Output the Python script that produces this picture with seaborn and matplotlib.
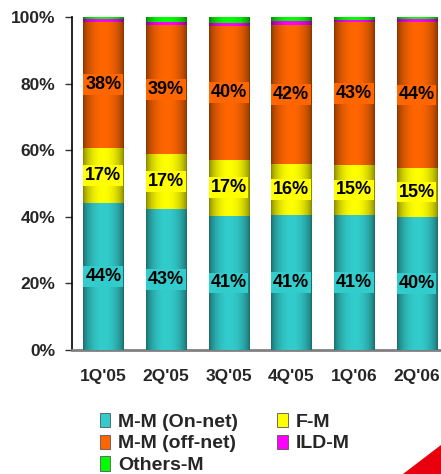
import numpy as np
import pandas as pd
import matplotlib
matplotlib.use("Agg")
import matplotlib.pyplot as plt
import seaborn as sns
from matplotlib.colors import to_rgb
from matplotlib.patches import Patch, Polygon

quarters = ["1Q'05", "2Q'05", "3Q'05", "4Q'05", "1Q'06", "2Q'06"]

# shares in % (bottom to top)
onnet = [44.1, 42.3, 40.3, 40.4, 40.6, 40.0]
fm = [16.6, 16.7, 16.9, 15.6, 15.0, 14.8]
offnet = [37.9, 38.6, 40.2, 41.6, 43.0, 43.6]
ild = [0.7, 0.9, 0.8, 1.2, 0.6, 0.9]
others = [0.7, 1.5, 1.8, 1.2, 0.8, 0.7]

onnet_labels = ["44%", "43%", "41%", "41%", "41%", "40%"]
fm_labels = ["17%", "17%", "17%", "16%", "15%", "15%"]
offnet_labels = ["38%", "39%", "40%", "42%", "43%", "44%"]

series_names = ["M-M (On-net)", "F-M", "M-M (off-net)", "ILD-M", "Others-M"]
series_vals = [onnet, fm, offnet, ild, others]
series_cols = ["#33cccc", "#ffff00", "#ff6600", "#ff00ff", "#00ff00"]
series_labels = [onnet_labels, fm_labels, offnet_labels, None, None]

sns.set_theme(style="white")
plt.rcParams["font.family"] = ["Liberation Sans", "DejaVu Sans"]

fig = plt.figure(figsize=(4.41, 4.74), dpi=100)
ax = fig.add_axes([72 / 441, 124 / 474, 369 / 441, 333 / 474])

df = pd.DataFrame({"quarter": quarters})
cum = np.zeros(len(quarters))
segs = []
for vals in series_vals:
    lo = cum.copy()
    cum = cum + np.array(vals)
    segs.append((lo, cum.copy()))

# cumulative bars, tallest first
for i in range(len(series_vals) - 1, -1, -1):
    df["top"] = segs[i][1]
    sns.barplot(data=df, x="quarter", y="top", color=series_cols[i],
                width=0.64, saturation=1, ax=ax, zorder=2)

# cylinder-like shading over every segment
t = np.linspace(0, 1, 128)
shade = 0.5 + 0.5 * np.sin(np.pi * t) ** 0.6
bar_patches = list(ax.patches[-len(quarters):])
for i, col in enumerate(series_cols):
    rgb = np.array(to_rgb(col))
    row = shade[:, None] * rgb[None, :]
    img = np.stack([row, row])
    lo, hi = segs[i]
    for j, p in enumerate(bar_patches):
        x0 = p.get_x()
        w = p.get_width()
        ax.imshow(img, extent=[x0, x0 + w, lo[j], hi[j]], aspect="auto", zorder=4)
        labs = series_labels[i]
        if labs is not None:
            ax.text(x0 + w / 2, (lo[j] + hi[j]) / 2, labs[j], ha="center", va="center",
                    fontsize=13, fontweight="bold", color="black", zorder=6,
                    bbox=dict(boxstyle="square,pad=0.1", fc=col, ec="none"))

ax.set_xlim(-0.5, 5.39)
ax.set_ylim(0, 100)
ax.set_yticks([0, 20, 40, 60, 80, 100])
ax.set_yticklabels([f"{v}%" for v in [0, 20, 40, 60, 80, 100]], fontsize=12.5, fontweight="bold")
ax.set_xticks(range(len(quarters)))
ax.set_xticklabels(quarters, fontsize=12.5, fontweight="bold")
ax.set_xticks([k + 0.5 for k in range(len(quarters) - 1)], minor=True)
ax.tick_params(axis="x", which="major", length=0, pad=14)
ax.tick_params(axis="x", which="minor", direction="in", length=5, width=1, color="#333333")
ax.tick_params(axis="y", direction="out", length=5, width=1, color="#333333", pad=7, left=True)
ax.set_xlabel("")
ax.set_ylabel("")
ax.spines["top"].set_visible(False)
ax.spines["right"].set_visible(False)
ax.spines["left"].set_color("black")
ax.spines["left"].set_linewidth(1.2)
ax.spines["bottom"].set_color("#808080")
ax.spines["bottom"].set_linewidth(2)

order = [0, 2, 4, 1, 3]
handles = [Patch(facecolor=series_cols[k], edgecolor="#555555", linewidth=0.6) for k in order]
names = [series_names[k] for k in order]
fig.legend(handles, names, ncol=2, loc="upper left", bbox_to_anchor=(90 / 441, 1 - 403 / 474),
           frameon=False, prop={"weight": "bold", "size": 14}, handlelength=0.55,
           handleheight=0.75, handletextpad=0.4, columnspacing=2.0, labelspacing=0.2,
           borderpad=0)

fig.add_artist(Polygon([(403 / 441, 0), (1, 0), (1, 29 / 474)], closed=True,
                       transform=fig.transFigure, facecolor="#e8000e", edgecolor="none"))

fig.savefig("out.png", dpi=100)
